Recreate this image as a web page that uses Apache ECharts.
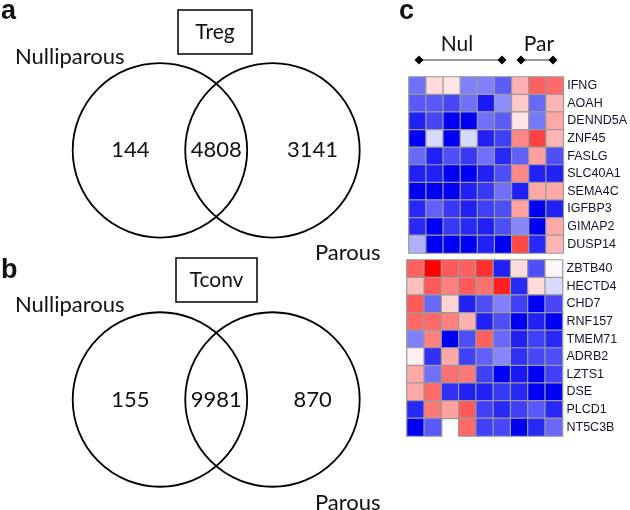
<!DOCTYPE html>
<html>
<head>
<meta charset="utf-8">
<script src="https://cdn.jsdelivr.net/npm/echarts@6/dist/echarts.min.js"></script>
<style>html,body{margin:0;padding:0;background:#fff}#c{width:630px;height:510px}</style>
</head>
<body>
<div id="c"></div>
<script>
// ---------- DATA ----------
const vennSetNames = ['Nulliparous', 'Parous'];
const vennTregCounts = [144, 4808, 3141];   // Nulliparous only, shared, Parous only
const vennTconvCounts = [155, 9981, 870];
const vennTitles = ['Treg', 'Tconv'];

const sampleGroups = ['Nul', 'Par'];
const samples = ['N1', 'N2', 'N3', 'N4', 'N5', 'N6', 'P1', 'P2', 'P3'];

const genesTop = ['IFNG', 'AOAH', 'DENND5A', 'ZNF45', 'FASLG', 'SLC40A1', 'SEMA4C', 'IGFBP3', 'GIMAP2', 'DUSP14'];
const valuesTop = [
  [-0.56, 0.14, 0.10, -0.50, -0.50, -0.64, 0.31, 0.62, 0.58],
  [-0.65, -0.65, -0.72, -0.56, -0.90, -0.44, 0.21, -0.59, 0.29],
  [-0.87, -0.72, -1.00, -1.00, -0.56, -0.64, 0.10, -0.53, 0.34],
  [-1.00, -0.15, -1.00, -0.15, -0.87, -0.75, 0.47, 0.75, 0.29],
  [-0.59, -0.87, -0.69, -0.78, -0.56, -0.84, -0.62, 0.37, -0.69],
  [-0.87, -0.87, -1.00, -1.00, -0.87, -0.69, 0.47, -0.87, -0.87],
  [-1.00, -1.00, -1.00, -0.87, -0.78, -0.56, -0.87, 0.34, 0.34],
  [-0.84, -0.62, -0.78, -0.87, -0.75, -0.69, 0.37, -1.00, -0.87],
  [-0.84, -1.00, -0.78, -0.84, -0.87, -0.69, -0.47, -1.00, 0.34],
  [-0.31, -1.00, -1.00, -1.00, -0.87, -1.00, 0.72, -0.84, 0.29]
];

const genesBottom = ['ZBTB40', 'HECTD4', 'CHD7', 'RNF157', 'TMEM71', 'ADRB2', 'LZTS1', 'DSE', 'PLCD1', 'NT5C3B'];
const valuesBottom = [
  [0.62, 1.00, 0.65, 0.62, 0.81, -0.87, 0.14, -0.69, 0.03],
  [0.26, 0.65, 0.50, 0.65, 0.56, 0.87, -0.84, 0.14, -0.15],
  [0.65, -0.59, 0.17, -0.87, -0.69, -0.50, -0.75, -1.00, -0.72],
  [0.59, 0.59, 0.50, 0.31, -0.87, -0.69, -1.00, -0.87, -1.00],
  [-0.50, 0.50, -1.00, -0.69, 0.62, -0.59, -0.87, -0.75, -0.84],
  [0.06, -0.81, 0.34, -0.75, -0.62, -0.47, -0.81, -0.72, -0.69],
  [0.34, -0.56, 0.56, 0.53, -0.75, -1.00, -0.90, -1.00, -0.75],
  [0.34, 0.59, -0.81, -0.87, -0.87, -0.78, -0.84, -1.00, -1.00],
  [-0.84, 0.53, 0.37, 0.65, -0.75, -0.84, -0.75, -0.65, -0.84],
  [-1.00, -0.65, null, 0.59, -0.75, -0.72, -1.00, -0.84, -0.59]
];

// ---------- BUILD ----------
const FONT = 'Lato, "Open Sans", sans-serif';
function toCells(m) {
  const out = [];
  m.forEach((row, r) => row.forEach((v, c) => { if (v !== null) out.push([c, r, v]); }));
  return out;
}

// Venn geometry in unit-radius coordinates
const SEP = 1.29;
const circles = [[0, 0, 1], [SEP, 0, 1]];
function countPoints(counts) {
  return [[-0.34, 0, counts[0]], [SEP / 2, 0, counts[1]], [SEP + 0.46, 0, counts[2]]];
}

function circleRender(params, api) {
  const c = api.coord([api.value(0), api.value(1)]);
  const r = api.size([api.value(2), 0])[0];
  return { type: 'circle', shape: { cx: c[0], cy: c[1], r: r },
    style: { fill: 'none', stroke: '#000', lineWidth: 1.8 } };
}
function countRender(params, api) {
  const c = api.coord([api.value(0), api.value(1)]);
  return { type: 'text', x: c[0], y: c[1],
    style: { text: String(api.value(2)), font: '22px ' + FONT, fill: '#111', align: 'center', verticalAlign: 'middle' } };
}

const vennGrids = [
  { left: 72.7, top: 63.3, width: 287, height: 174 },
  { left: 72.7, top: 312, width: 287, height: 175 }
];

const grids = [], xAxes = [], yAxes = [], series = [];
vennGrids.forEach((g, i) => {
  grids.push(Object.assign({ containLabel: false }, g));
  xAxes.push({ type: 'value', gridIndex: i, min: -1, max: SEP + 1, show: false });
  yAxes.push({ type: 'value', gridIndex: i, min: -1, max: 1, show: false });
  series.push({ type: 'custom', xAxisIndex: i, yAxisIndex: i, renderItem: circleRender, data: circles, silent: true });
  series.push({ type: 'custom', xAxisIndex: i, yAxisIndex: i, renderItem: countRender,
    data: countPoints(i === 0 ? vennTregCounts : vennTconvCounts), silent: true });
});

// heatmap grids
const hmGrids = [
  { left: 409, top: 77, width: 155.5, height: 176 },
  { left: 407, top: 260, width: 155.5, height: 176 }
];
[[genesTop, valuesTop], [genesBottom, valuesBottom]].forEach((pair, k) => {
  const gi = grids.length;
  grids.push(hmGrids[k]);
  xAxes.push({ type: 'category', gridIndex: gi, data: samples, show: false });
  yAxes.push({ type: 'category', gridIndex: gi, data: pair[0], inverse: true, position: 'right',
    axisLine: { show: false }, axisTick: { show: false }, splitLine: { show: false },
    axisLabel: { margin: 4, fontSize: 12.5, fontFamily: '"Liberation Sans", Arial, sans-serif', color: '#14142a' } });
  series.push({ type: 'heatmap', xAxisIndex: gi, yAxisIndex: gi, data: toCells(pair[1]),
    itemStyle: { borderColor: '#9a9a9a', borderWidth: 1.2 }, emphasis: { disabled: true } });
});

function txt(x, y, s, font, align) {
  return { type: 'text', x: x, y: y, style: { text: s, font: font, fill: '#111', align: align || 'left', verticalAlign: 'middle' } };
}
function diamond(x, y) {
  return { type: 'polygon', shape: { points: [[x, y - 4.5], [x + 4.5, y], [x, y + 4.5], [x - 4.5, y]] }, style: { fill: '#000' } };
}
const graphic = [
  txt(1, 12, 'a', 'bold 27px "Liberation Sans", Arial, sans-serif'),
  txt(1, 271, 'b', 'bold 27px "Liberation Sans", Arial, sans-serif'),
  txt(399, 12, 'c', 'bold 27px "Liberation Sans", Arial, sans-serif'),
  { type: 'rect', shape: { x: 178, y: 10, width: 74, height: 44 }, style: { fill: 'none', stroke: '#000', lineWidth: 1.5 } },
  txt(215, 32, vennTitles[0], '21px ' + FONT, 'center'),
  { type: 'rect', shape: { x: 176, y: 258, width: 81, height: 44 }, style: { fill: 'none', stroke: '#000', lineWidth: 1.5 } },
  txt(216.5, 280, vennTitles[1], '21px ' + FONT, 'center'),
  txt(15, 57, vennSetNames[0], '22px ' + FONT),
  txt(15, 305, vennSetNames[0], '22px ' + FONT),
  txt(315, 253, vennSetNames[1], '22px ' + FONT),
  txt(315, 503, vennSetNames[1], '22px ' + FONT),
  txt(457, 44, sampleGroups[0], '21px ' + FONT, 'center'),
  txt(539, 44, sampleGroups[1], '21px ' + FONT, 'center'),
  { type: 'line', shape: { x1: 419, y1: 60, x2: 502, y2: 60 }, style: { stroke: '#333', lineWidth: 1 } },
  { type: 'line', shape: { x1: 521, y1: 60, x2: 553, y2: 60 }, style: { stroke: '#333', lineWidth: 1 } },
  diamond(419, 60), diamond(502, 60), diamond(521, 60), diamond(553, 60)
];

const chart = echarts.init(document.getElementById('c'), null, { renderer: 'canvas' });
chart.setOption({
  animation: false,
  backgroundColor: '#fff',
  grid: grids, xAxis: xAxes, yAxis: yAxes,
  visualMap: { show: false, min: -1, max: 1, seriesIndex: [4, 5], dimension: 2,
    inRange: { color: ['#0000f5', '#ffffff', '#ff0000'] } },
  series: series,
  graphic: graphic
});
</script>
</body>
</html>
